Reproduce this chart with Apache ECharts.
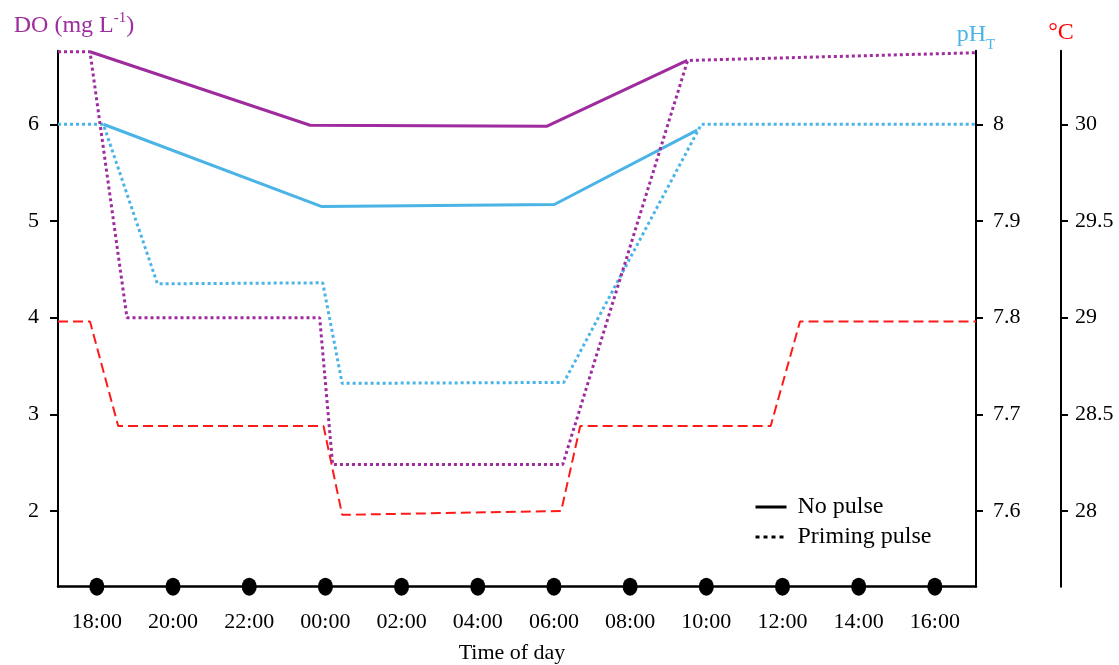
<!DOCTYPE html>
<html><head><meta charset="utf-8">
<script src="https://cdn.jsdelivr.net/npm/echarts@6/dist/echarts.min.js"></script>
<style>html,body{margin:0;padding:0;background:#fff}#c{width:1119px;height:665px}</style>
</head><body><div id="c"></div><script>
// ---- data (hours on a continuous clock: 24 = 00:00 next day) ----
const tickHours = [18, 20, 22, 24, 26, 28, 30, 32, 34, 36, 38, 40];
const sampleHours = [18, 20, 22, 24, 26, 28, 30, 32, 34, 36, 38, 40];

const doPrimingHours = [16.98, 17.82, 18.79, 23.85, 24.19, 30.23, 33.51, 41.08];
const doPriming      = [6.75, 6.75, 4.0, 4.0, 2.48, 2.48, 6.66, 6.74];
const doNoPulseHours = [17.82, 23.60, 29.82, 33.50];
const doNoPulse      = [6.75, 5.99, 5.98, 6.66];

const phPrimingHours = [16.98, 18.17, 19.59, 23.93, 24.44, 30.26, 33.87, 41.08];
const phPriming      = [8.0, 8.0, 7.835, 7.836, 7.732, 7.733, 8.0, 8.0];
const phNoPulseHours = [18.17, 23.89, 30.01, 33.76];
const phNoPulse      = [8.0, 7.915, 7.917, 7.994];

const tempHours = [16.98, 17.82, 18.56, 23.95, 24.44, 30.19, 30.69, 35.69, 36.46, 41.08];
const temp      = [28.98, 28.98, 28.44, 28.44, 27.98, 28.0, 28.44, 28.44, 28.98, 28.98];

const doTicks = [2, 3, 4, 5, 6];
const phTicks = [7.6, 7.7, 7.8, 7.9, 8.0];
const tempTicks = [28, 28.5, 29, 29.5, 30];

// axis ranges
const X_MIN = 16.98, X_MAX = 41.08;
const DO_MIN = 1.217, DO_MAX = 6.761;
const PH_MIN = 7.5217, PH_MAX = 8.0761;
const T_MIN = 27.6085, T_MAX = 30.3805;

const FONT = '"Liberation Serif", "Times New Roman", serif';
const PURPLE = '#9E2C9E', BLUE = '#4AB4E6', RED = '#FF1A1A';

const zip = (xs, ys) => xs.map((x, i) => [x, ys[i]]);
const fmtHour = v => { const h = Math.round(v) % 24; return (h < 10 ? '0' : '') + h + ':00'; };
const fmtNum = v => String(+(+v).toFixed(2));

const chart = echarts.init(document.getElementById('c'), null, {renderer: 'canvas'});

const yBase = (extra) => Object.assign({
  type: 'value',
  splitLine: {show: false},
  axisLine: {show: true, onZero: false, lineStyle: {color: '#000', width: 2}},
  axisLabel: {color: '#000', fontSize: 22, fontFamily: FONT, formatter: fmtNum},
}, extra);

const NOSYM = {color: 'rgba(0,0,0,0)', borderColor: 'rgba(0,0,0,0)', borderWidth: 0};

chart.setOption({
  animation: false,
  backgroundColor: '#fff',
  grid: {left: 58, right: 143, top: 50.7, bottom: 78.3, containLabel: false, outerBoundsMode: 'none'},
  legend: {
    orient: 'vertical', left: 749, top: 490, itemWidth: 31, itemHeight: 14, itemGap: 6,
    data: [
      {name: 'No pulse', itemStyle: NOSYM, lineStyle: {color: '#000', width: 3, type: 'solid'}},
      {name: 'Priming pulse', itemStyle: NOSYM, lineStyle: {color: '#000', width: 3, type: [4, 4]}}
    ],
    itemStyle: NOSYM,
    lineStyle: {width: 3},
    textStyle: {fontSize: 24, fontFamily: FONT, color: '#000', padding: [0, 0, 0, 6]}
  },
  xAxis: {
    type: 'value', min: X_MIN, max: X_MAX,
    splitLine: {show: false},
    axisLine: {show: true, onZero: false, lineStyle: {color: '#000', width: 2.5}},
    axisTick: {show: false},
    axisLabel: {customValues: tickHours, formatter: fmtHour, margin: 25, fontSize: 22, fontFamily: FONT, color: '#000'},
    name: 'Time of day', nameLocation: 'middle', nameGap: 56,
    nameTextStyle: {fontSize: 22, fontFamily: FONT, color: '#000', padding: [0, 10, 0, 0]}
  },
  yAxis: [
    yBase({
      min: DO_MIN, max: DO_MAX, position: 'left',
      axisTick: {show: true, customValues: doTicks, length: 8, lineStyle: {color: '#000', width: 2}},
      axisLabel: {customValues: doTicks, margin: 19, color: '#000', fontSize: 22, fontFamily: FONT, formatter: fmtNum},
      name: '{a|DO (mg L}{s|-1}{a|)}', nameLocation: 'end', nameGap: 13,
      nameTextStyle: {padding: [0, 0, 0, 32], rich: {
        a: {fontSize: 24, fontFamily: FONT, color: PURPLE, lineHeight: 27, verticalAlign: 'bottom'},
        s: {fontSize: 15, fontFamily: FONT, color: PURPLE, lineHeight: 27, verticalAlign: 'top'}
      }}
    }),
    yBase({
      min: PH_MIN, max: PH_MAX, position: 'right', offset: 0,
      axisTick: {show: true, customValues: phTicks, length: 7, lineStyle: {color: '#000', width: 2}},
      axisLabel: {customValues: phTicks, margin: 17, color: '#000', fontSize: 22, fontFamily: FONT, formatter: fmtNum},
      name: '{a|pH}{s|T}', nameLocation: 'end', nameGap: -2,
      nameTextStyle: {rich: {
        a: {fontSize: 24, fontFamily: FONT, color: BLUE, lineHeight: 30, verticalAlign: 'top'},
        s: {fontSize: 15, fontFamily: FONT, color: BLUE, lineHeight: 30, verticalAlign: 'bottom'}
      }}
    }),
    yBase({
      min: T_MIN, max: T_MAX, position: 'right', offset: 85,
      axisTick: {show: true, customValues: tempTicks, length: 7, lineStyle: {color: '#000', width: 2}},
      axisLabel: {customValues: tempTicks, margin: 14, color: '#000', fontSize: 22, fontFamily: FONT, formatter: fmtNum},
      name: '°C', nameLocation: 'end', nameGap: 6,
      nameTextStyle: {fontSize: 24, fontFamily: FONT, color: '#FF0000'}
    })
  ],
  series: [
    {name: 'Temperature', type: 'line', yAxisIndex: 2, data: zip(tempHours, temp), symbol: 'none',
     lineStyle: {color: RED, width: 2, type: [10, 5]}, z: 2},
    {name: 'pH priming', type: 'line', yAxisIndex: 1, data: zip(phPrimingHours, phPriming), symbol: 'none',
     lineStyle: {color: BLUE, width: 3, type: [3, 3]}, z: 3},
    {name: 'pH no pulse', type: 'line', yAxisIndex: 1, data: zip(phNoPulseHours, phNoPulse), symbol: 'none',
     lineStyle: {color: BLUE, width: 3}, z: 3},
    {name: 'DO priming', type: 'line', yAxisIndex: 0, data: zip(doPrimingHours, doPriming), symbol: 'none',
     lineStyle: {color: PURPLE, width: 3, type: [3, 3]}, z: 4},
    {name: 'DO no pulse', type: 'line', yAxisIndex: 0, data: zip(doNoPulseHours, doNoPulse), symbol: 'none',
     lineStyle: {color: PURPLE, width: 3}, z: 4},
    {name: 'Samples', type: 'scatter', yAxisIndex: 0, data: sampleHours.map(h => [h, DO_MIN]),
     symbol: 'circle', symbolSize: [15, 18], itemStyle: {color: '#000', opacity: 1}, clip: false, silent: true, z: 6},
    {name: 'No pulse', type: 'line', data: [], symbol: 'none', color: '#000', itemStyle: NOSYM,
     lineStyle: {color: '#000', width: 3}},
    {name: 'Priming pulse', type: 'line', data: [], symbol: 'none', color: '#000', itemStyle: NOSYM,
     lineStyle: {color: '#000', width: 3, type: [4, 4]}}
  ]
});
</script></body></html>
